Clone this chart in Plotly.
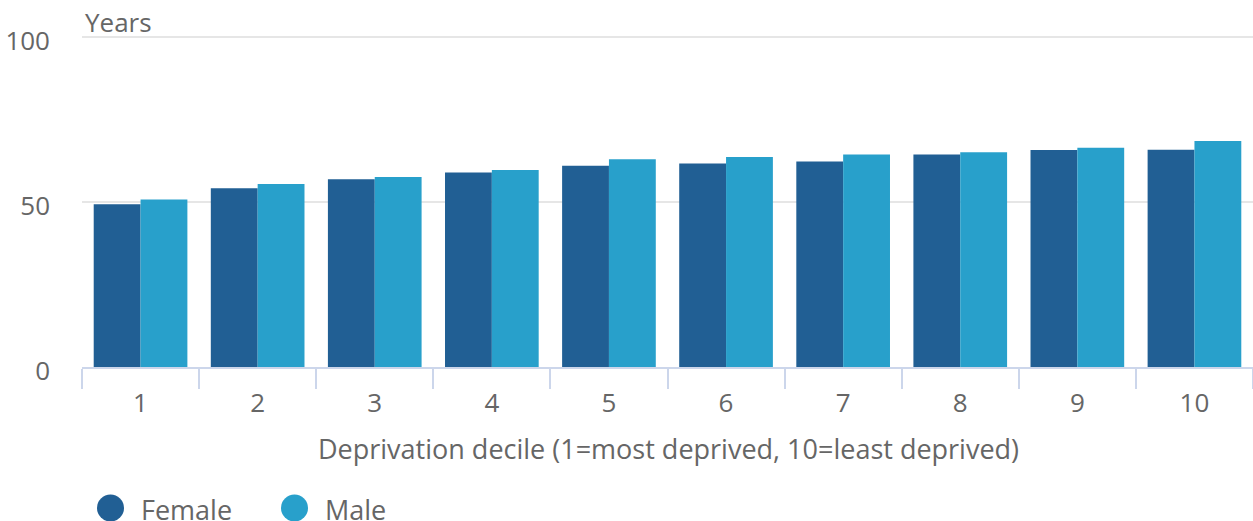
import plotly.graph_objects as go

categories = ["1", "2", "3", "4", "5", "6", "7", "8", "9", "10"]
female = [49.3, 54.1, 56.8, 58.9, 60.9, 61.6, 62.2, 64.3, 65.7, 65.8]
male = [50.7, 55.4, 57.5, 59.6, 62.9, 63.6, 64.3, 65.0, 66.4, 68.4]
y_ticks = [0, 50, 100]

FEMALE_COLOR = "#215f94"
MALE_COLOR = "#28a0cb"
TEXT = "#666666"
FONT = "Open Sans"

W, H = 1253, 521
L, R, T, B = 82, 0, 35, 154
PW, PH = W - L - R, H - T - B


def px_x(p):
    return (p - L) / PW


def px_y(q):
    return (H - B - q) / PH


fig = go.Figure()
fig.add_trace(go.Bar(x=categories, y=female, name="Female", marker_color=FEMALE_COLOR,
                     marker_line_width=0, showlegend=False))
fig.add_trace(go.Bar(x=categories, y=male, name="Male", marker_color=MALE_COLOR,
                     marker_line_width=0, showlegend=False))

fig.update_layout(
    width=W, height=H,
    margin=dict(l=L, r=R, t=T, b=B, pad=0),
    paper_bgcolor="white", plot_bgcolor="white",
    font=dict(family=FONT, color=TEXT, size=26),
    barmode="group", bargap=0.2, bargroupgap=0,
    xaxis=dict(
        type="category",
        showline=True, linecolor="#ccd6eb", linewidth=1.5,
        ticks="outside", tickson="boundaries", ticklen=20, tickcolor="#ccd6eb",
        tickwidth=1.5,
        tickfont=dict(size=26, color=TEXT),
        ticklabelstandoff=12,
        showgrid=False,
    ),
    yaxis=dict(
        range=[0, 100.5], tickvals=y_ticks,
        showgrid=True, gridcolor="#e6e6e6", gridwidth=1.5,
        zeroline=False, showline=False,
        tickfont=dict(size=26, color=TEXT),
        ticklabelstandoff=31,
        ticklabelshift=4,
    ),
    showlegend=False,
)

annotations = [
    dict(text="Years", xref="paper", yref="paper", x=px_x(83), y=px_y(22),
         xanchor="left", yanchor="middle", showarrow=False,
         font=dict(size=26, color=TEXT)),
    dict(text="Deprivation decile (1=most deprived, 10=least deprived)",
         xref="paper", yref="paper", x=px_x(668), y=px_y(448),
         xanchor="center", yanchor="middle", showarrow=False,
         font=dict(size=27, color=TEXT)),
    dict(text="Female", xref="paper", yref="paper", x=px_x(139), y=px_y(509),
         xanchor="left", yanchor="middle", showarrow=False,
         font=dict(size=27, color=TEXT)),
    dict(text="Male", xref="paper", yref="paper", x=px_x(323), y=px_y(509),
         xanchor="left", yanchor="middle", showarrow=False,
         font=dict(size=27, color=TEXT)),
]
fig.update_layout(annotations=annotations)

shapes = []
for cx, col in [(110.5, FEMALE_COLOR), (294.5, MALE_COLOR)]:
    shapes.append(dict(type="circle", xref="paper", yref="paper",
                       xsizemode="pixel", ysizemode="pixel",
                       xanchor=px_x(cx), yanchor=px_y(508),
                       x0=-13.5, x1=13.5, y0=-13.5, y1=13.5,
                       fillcolor=col, line=dict(width=0)))
fig.update_layout(shapes=shapes)

fig.write_html("out.html", config={"displayModeBar": False})
